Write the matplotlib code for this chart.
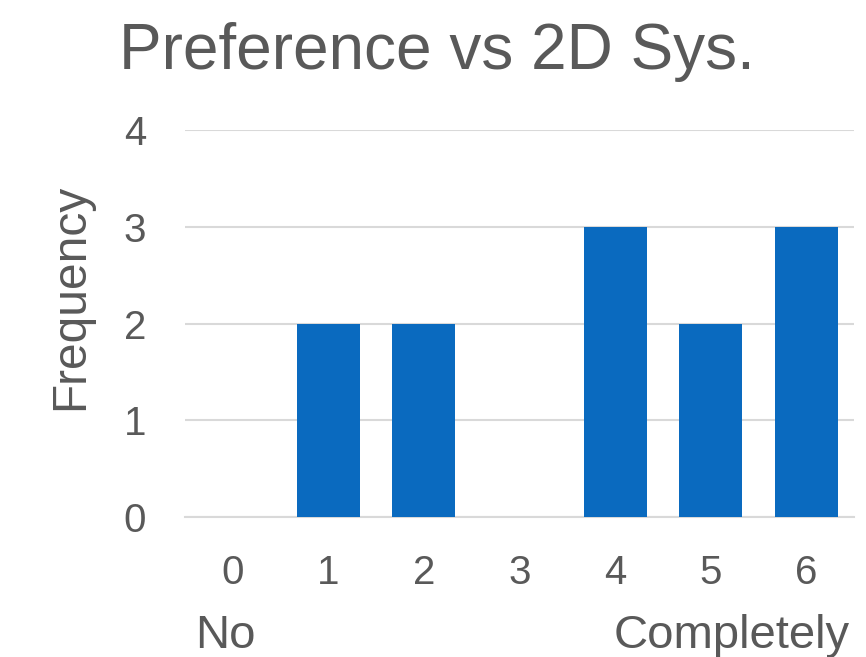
import matplotlib.pyplot as plt
from matplotlib.transforms import blended_transform_factory

plt.rcParams['font.family'] = ['Liberation Sans', 'DejaVu Sans']

scores = [0, 1, 2, 3, 4, 5, 6]
frequency = [0, 2, 2, 0, 3, 2, 3]
yticks = [0, 1, 2, 3, 4]

text_color = "#595959"
grid_color = "#D9D9D9"

fig = plt.figure(figsize=(8.66, 6.57), dpi=100)
ax = fig.add_axes([0.2136, 0.2131, 0.7725, 0.589])

ax.bar(scores, frequency, width=0.66, color="#0A6ABF", zorder=3)

ax.set_xlim(-0.5, 6.5)
ax.set_ylim(0, 4)
ax.set_yticks(yticks)
ax.set_xticks(scores)
ax.set_xticklabels([str(s) for s in scores])
ax.grid(axis="y", color=grid_color, linewidth=1.5, zorder=0)
for side in ["top", "right", "left"]:
    ax.spines[side].set_visible(False)
ax.spines["bottom"].set_color(grid_color)
ax.spines["bottom"].set_linewidth(1.5)
ax.tick_params(length=0, labelsize=29, labelcolor=text_color)
ax.tick_params(axis="x", pad=27)
ax.tick_params(axis="y", pad=28)

fig.text(0.081, 0.548, "Frequency", rotation=90, ha="center", va="center",
         fontsize=34.5, color=text_color)
fig.suptitle("Preference vs 2D Sys.", fontsize=46, color=text_color,
             x=0.505, y=0.967)

trans = blended_transform_factory(ax.transData, fig.transFigure)
ax.text(-0.08, 0.032, "No", transform=trans, ha="center", va="center",
        fontsize=34, color=text_color)
ax.text(6.46, 0.032, "Completely", transform=trans, ha="right", va="center",
        fontsize=34, color=text_color)

fig.savefig("out.png", dpi=100)
plt.close(fig)
